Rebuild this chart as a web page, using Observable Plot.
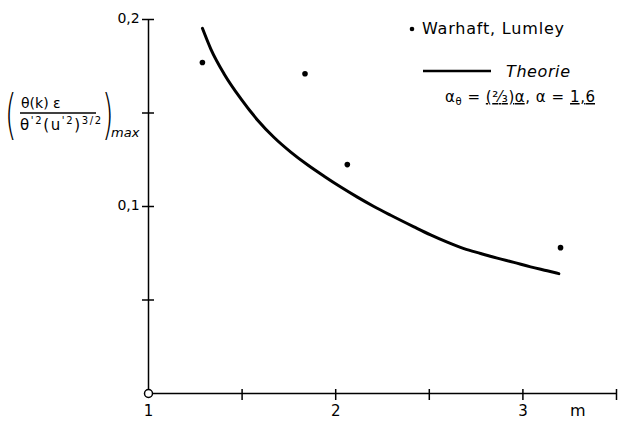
<!DOCTYPE html>
<html>
<head>
<meta charset="utf-8">
<script src="https://cdn.jsdelivr.net/npm/d3@7"></script>
<script src="https://cdn.jsdelivr.net/npm/@observablehq/plot@0.6"></script>
<style>
  html, body { margin: 0; padding: 0; background: #fff; overflow: hidden; }
  svg { font-family: "DejaVu Sans", sans-serif; }
</style>
</head>
<body>
<div id="chart"></div>
<script>
// Measured data (Warhaft, Lumley)
const obsM = [1.288, 1.836, 2.062, 3.201];
const obsVal = [0.177, 0.171, 0.1224, 0.078];

// Theory curve
const theoryM = [1.288, 1.333, 1.404, 1.493, 1.582, 1.671, 1.760, 1.849, 1.938, 2.027, 2.116, 2.204, 2.294, 2.418, 2.507, 2.596, 2.685, 2.774, 2.863, 2.952, 3.041, 3.130, 3.192];
const theoryVal = [0.1953, 0.1842, 0.1709, 0.1577, 0.1463, 0.1369, 0.1291, 0.1223, 0.1162, 0.1104, 0.1050, 0.1000, 0.0953, 0.0891, 0.0848, 0.0809, 0.0775, 0.0749, 0.0724, 0.0701, 0.0677, 0.0656, 0.0641];

// Ticks and labels
const xTicks = [1.5, 2, 2.5, 3, 3.5];
const xTickLabels = [{v: 1, t: "1"}, {v: 2, t: "2"}, {v: 3, t: "3"}];
const yTicks = [0.05, 0.1, 0.15, 0.2];
const yTickLabels = [{v: 0.1, t: "0,1"}, {v: 0.2, t: "0,2"}];

const obs = obsM.map((m, i) => ({m, v: obsVal[i]}));
const theory = theoryM.map((m, i) => ({m, v: theoryVal[i]}));

const plot = Plot.plot({
  width: 618,
  height: 421,
  marginLeft: 148,
  marginRight: 2,
  marginTop: 19,
  marginBottom: 28,
  x: {domain: [1, 3.5], axis: null},
  y: {domain: [0, 0.2], axis: null},
  style: {background: "#fff", color: "#000", fontFamily: "DejaVu Sans, sans-serif"},
  marks: [
    Plot.ruleY([0], {x1: 1, x2: 3.5, stroke: "#000", strokeWidth: 1.5}),
    Plot.ruleX([1], {y1: 0, y2: 0.2, stroke: "#000", strokeWidth: 1.5}),
    Plot.ruleX(xTicks, {x: d => d, y1: 0, y2: 0, insetTop: -4, insetBottom: -7, stroke: "#000", strokeWidth: 1.5}),
    Plot.ruleY(yTicks, {y: d => d, x1: 1, x2: 1, insetLeft: -6, insetRight: -6, stroke: "#000", strokeWidth: 1.5}),
    Plot.text(xTickLabels, {x: "v", y: 0, text: "t", dy: 18, fontSize: 15, fill: "#000"}),
    Plot.text(yTickLabels, {x: 1, y: "v", text: "t", dx: -20, dy: -1, fontSize: 14, fill: "#000"}),
    Plot.line(theory, {x: "m", y: "v", curve: "monotone-x", stroke: "#000", strokeWidth: 3}),
    Plot.dot(obs, {x: "m", y: "v", r: 2.8, fill: "#000"}),
    Plot.dot([{m: 1, v: 0}], {x: "m", y: "v", r: 4, fill: "#fff", stroke: "#000", strokeWidth: 1.5})
  ]
});
document.getElementById("chart").appendChild(plot);

const svg = d3.select(plot);
const T = (sel) => sel.append("text").attr("text-anchor", "start").attr("fill", "#000");

// x axis unit label
T(svg).attr("x", 570).attr("y", 416).attr("font-size", 16).text("m");

// legend
svg.append("circle").attr("cx", 412).attr("cy", 29).attr("r", 2.3).attr("fill", "#000");
T(svg).attr("x", 422).attr("y", 34).attr("font-size", 16)
  .attr("textLength", 142).attr("lengthAdjust", "spacing").text("Warhaft, Lumley");
svg.append("line").attr("x1", 423).attr("x2", 491).attr("y1", 71).attr("y2", 71)
  .attr("stroke", "#000").attr("stroke-width", 2.5);
T(svg).attr("x", 506).attr("y", 77).attr("font-size", 16).attr("font-style", "italic")
  .attr("textLength", 64).attr("lengthAdjust", "spacing").text("Theorie");
const f = T(svg).attr("x", 445).attr("y", 102).attr("font-size", 15)
  .attr("textLength", 150).attr("lengthAdjust", "spacing");
f.append("tspan").text("α");
f.append("tspan").attr("font-size", 10).attr("dy", 3).text("θ");
f.append("tspan").attr("dy", -3).text(" = ");
f.append("tspan").attr("text-decoration", "underline").text("(²⁄₃)α");
f.append("tspan").text(", α = ");
f.append("tspan").attr("text-decoration", "underline").text("1,6");

// y axis label
const g = svg.append("g");
T(g).attr("x", 5).attr("y", 133).attr("font-size", 54).attr("font-weight", 200)
  .attr("transform", "translate(5,0) scale(0.55,1) translate(-5,0)").text("(");
T(g).attr("x", 21).attr("y", 108).attr("font-size", 14).text("θ(k) ε");
g.append("line").attr("x1", 20).attr("x2", 96).attr("y1", 113).attr("y2", 113)
  .attr("stroke", "#000").attr("stroke-width", 1.5);
const den = T(g).attr("x", 20).attr("y", 130).attr("font-size", 15)
  .attr("textLength", 81).attr("lengthAdjust", "spacing");
den.append("tspan").text("θ");
den.append("tspan").attr("font-size", 10).attr("dy", -6).text("'2");
den.append("tspan").attr("dy", 6).text("(u");
den.append("tspan").attr("font-size", 10).attr("dy", -6).text("'2");
den.append("tspan").attr("dy", 6).text(")");
den.append("tspan").attr("font-size", 10).attr("dy", -6).text("3/2");
T(g).attr("x", 102).attr("y", 133).attr("font-size", 54).attr("font-weight", 200)
  .attr("transform", "translate(102,0) scale(0.55,1) translate(-102,0)").text(")");
T(g).attr("x", 111).attr("y", 137).attr("font-size", 13).attr("font-style", "italic").text("max");
</script>
</body>
</html>
